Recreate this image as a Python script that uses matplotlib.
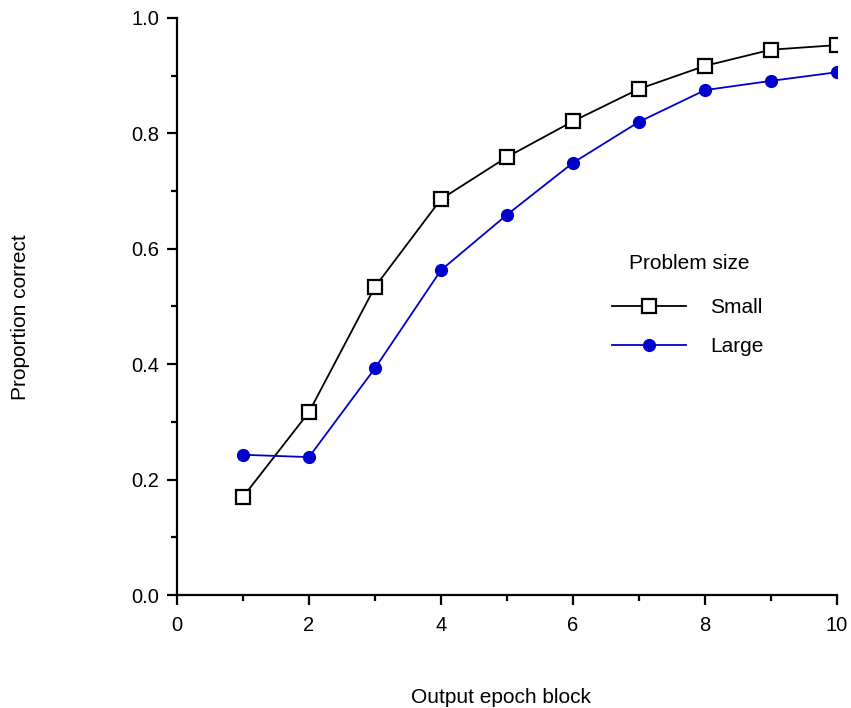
import matplotlib.pyplot as plt
from matplotlib.ticker import MultipleLocator

plt.rcParams['font.family'] = ['Liberation Sans', 'DejaVu Sans']

epoch_block = [1, 2, 3, 4, 5, 6, 7, 8, 9, 10]
small_correct = [0.170, 0.317, 0.534, 0.686, 0.759, 0.821, 0.877, 0.917, 0.945, 0.953]
large_correct = [0.243, 0.239, 0.393, 0.563, 0.659, 0.749, 0.820, 0.875, 0.891, 0.906]

fig = plt.figure(figsize=(8.51, 7.08), dpi=100)
ax = fig.add_axes([0.208, 0.1596, 0.7755, 0.815])

ax.plot(epoch_block, small_correct, color='black', lw=1.3, marker='s', ms=9.5,
        mfc='white', mec='black', mew=1.6, label='Small')
ax.plot(epoch_block, large_correct, color='#0000cc', lw=1.3, marker='o', ms=8.5,
        mfc='#0000cc', mec='#0000cc', label='Large')

ax.set_xlim(0, 10)
ax.set_ylim(0, 1)
ax.xaxis.set_major_locator(MultipleLocator(2))
ax.xaxis.set_minor_locator(MultipleLocator(1))
ax.yaxis.set_major_locator(MultipleLocator(0.2))
ax.yaxis.set_minor_locator(MultipleLocator(0.1))
ax.yaxis.set_major_formatter(lambda v, p: f"{v:.1f}")

for side in ('top', 'right'):
    ax.spines[side].set_visible(False)
for side in ('left', 'bottom'):
    ax.spines[side].set_linewidth(1.6)
ax.tick_params(which='major', direction='out', length=7, width=1.6, labelsize=14.5)
ax.tick_params(axis='x', which='major', pad=8)
ax.tick_params(axis='y', which='major', pad=6)
ax.tick_params(which='minor', direction='out', length=4, width=1.6)

ax.set_xlabel('Output epoch block', fontsize=15, va='center')
ax.xaxis.set_label_coords(0.491, -0.177)
ax.set_ylabel('Proportion correct', fontsize=15, va='center')
ax.yaxis.set_label_coords(-0.237, 0.482)

# legend title drawn on its own so the gap above the entries can be set freely
ax.text(0.776, 0.574, 'Problem size', transform=ax.transAxes, fontsize=15,
        ha='center', va='center')
ax.legend(loc='center left', bbox_to_anchor=(0.659, 0.464),
          frameon=False, fontsize=15, borderpad=0, borderaxespad=0,
          handlelength=3.55, handletextpad=1.15, labelspacing=0.95)

fig.savefig('out.png', dpi=100)
